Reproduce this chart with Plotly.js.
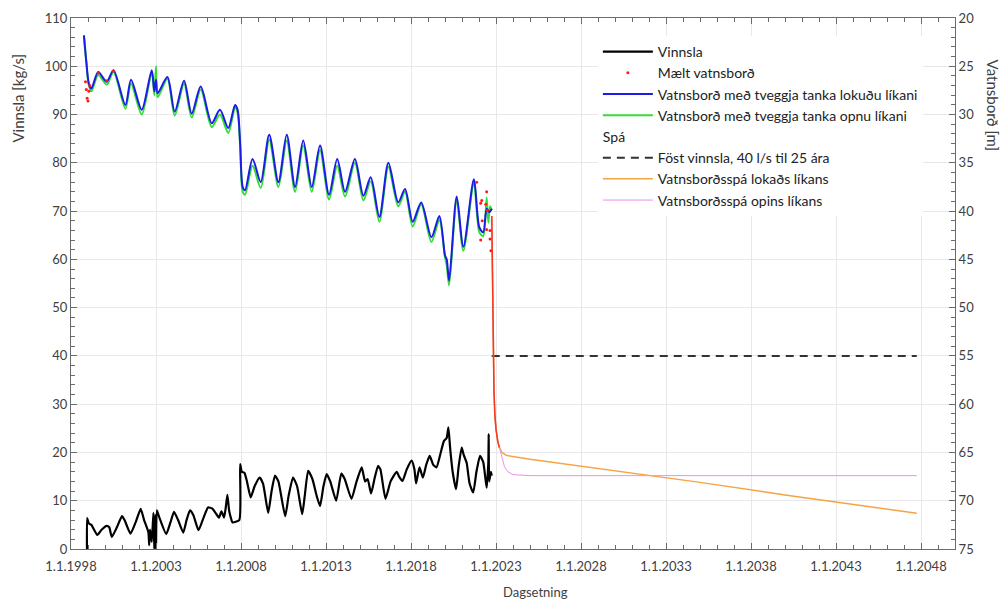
<!DOCTYPE html>
<html><head><meta charset="utf-8">
<script src="https://cdn.plot.ly/plotly-3.0.1.min.js"></script>
<style>html,body{margin:0;padding:0;background:#fff;}#chart{width:1007px;height:601px;}</style>
</head><body><div id="chart"></div>
<script>
// ---- Data (decimal years) ----
const tickYears = [1998,2003,2008,2013,2018,2023,2028,2033,2038,2043,2048];
const tickLabels = ['1.1.1998','1.1.2003','1.1.2008','1.1.2013','1.1.2018','1.1.2023','1.1.2028','1.1.2033','1.1.2038','1.1.2043','1.1.2048'];

// Vinnsla [kg/s]
const vinnslaT = [1998.94,1998.95,1999.05,1999.2,1999.55,1999.8,2000.1,2000.25,2000.4,2000.7,2001.0,2001.15,2001.5,2001.8,2002.1,2002.3,2002.55,2002.6,2002.65,2002.75,2002.85,2002.9,2002.95,2003.0,2003.05,2003.2,2003.6,2003.85,2004.06,2004.3,2004.6,2004.8,2005.0,2005.2,2005.5,2005.8,2006.06,2006.3,2006.5,2006.7,2006.85,2007.0,2007.1,2007.2,2007.3,2007.4,2007.5,2007.9,2007.95,2008.05,2008.2,2008.35,2008.57,2008.8,2009.1,2009.3,2009.6,2009.8,2010.0,2010.2,2010.6,2010.8,2011.06,2011.3,2011.6,2011.75,2011.95,2012.2,2012.45,2012.65,2012.85,2013.04,2013.25,2013.6,2013.9,2014.1,2014.5,2014.8,2015.1,2015.3,2015.45,2015.65,2015.85,2016.06,2016.2,2016.5,2016.8,2017.16,2017.3,2017.5,2017.75,2018.04,2018.2,2018.3,2018.5,2018.7,2018.9,2019.1,2019.3,2019.5,2019.75,2019.94,2020.1,2020.2,2020.3,2020.45,2020.65,2020.8,2020.98,2021.1,2021.27,2021.45,2021.66,2021.85,2022.06,2022.25,2022.45,2022.55,2022.57,2022.6,2022.7,2022.75];
const vinnslaV = [0,6.4,5.3,5.0,2.9,4.0,4.8,4.5,2.5,4.5,6.8,6.0,3.2,5.5,8.3,6.0,3.5,0.8,4.0,1.5,7.5,0,7.0,0,8.0,6.5,3.1,5.5,7.7,6.0,3.4,6.0,8.0,7.0,3.9,6.5,8.6,8.4,7.5,6.5,7.8,6.5,8.5,11.2,8.0,6.5,5.5,6.0,17.6,16.0,15.8,14.0,10.7,13.0,14.8,13.5,7.5,12.0,15.2,14.0,6.8,11.0,14.8,13.0,7.2,11.0,16.2,14.5,11.0,8.9,13.0,15.5,14.0,10.0,15.6,14.5,10.4,14.0,16.9,14.0,14.5,11.5,14.5,17.2,16.5,10.4,14.0,16.0,15.0,14.1,16.5,18.3,16.5,13.6,16.9,14.8,17.5,19.3,17.5,16.9,20.0,22.4,23.0,25.2,21.0,16.0,12.4,17.0,21.0,19.5,17.9,13.5,11.7,16.0,19.3,18.0,12.7,18.0,23.8,14.0,16.0,15.2];

// Mælt vatnsborð [m]
const maeltT = [1998.85,1998.9,1998.95,1999.0,1999.05,1999.1,1999.6,2000.1,2000.5,2021.86,2022.1,2022.16,2022.19,2022.1,2022.4,2022.45,2022.45,2022.5,2022.65,2022.65,2022.7];
const maeltV = [26.6,27.4,28.3,28.6,27.6,27.0,25.7,26.5,25.5,37.0,39.2,38.9,41.0,43.0,39.3,38.0,41.9,39.9,42.0,42.9,44.1];

// Vatnsborð með tveggja tanka lokuðu líkani [m]
const lokadT = [1998.76,1998.9,1999.05,1999.2,1999.6,2000.1,2000.5,2001.2,2001.53,2002.16,2002.75,2002.9,2003.0,2003.1,2003.67,2004.1,2004.65,2005.1,2005.63,2006.28,2006.76,2007.25,2007.65,2007.8,2007.95,2008.1,2008.24,2008.68,2009.16,2009.66,2010.2,2010.69,2011.18,2011.66,2012.16,2012.65,2013.18,2013.66,2014.12,2014.7,2015.2,2015.63,2016.14,2016.67,2017.25,2017.65,2018.1,2018.6,2019.2,2019.67,2020.0,2020.1,2020.24,2020.69,2021.08,2021.7,2022.02,2022.25,2022.45,2022.6,2022.75];
const lokadV = [21.8,24.5,26.8,27.3,25.6,26.6,25.4,29.0,26.4,29.5,25.4,27.6,26.4,27.8,26.1,29.7,26.5,29.9,27.1,30.9,29.5,31.4,29.0,29.5,33.0,37.5,37.85,34.6,37.0,32.1,37.0,32.1,37.5,32.7,37.5,33.2,38.3,34.6,38.0,34.6,38.4,36.5,40.6,35.0,39.1,37.7,41.1,39.1,42.7,40.5,44.6,45.0,47.2,38.5,43.7,36.7,41.7,42.2,39.75,40.1,39.75];

// Vatnsborð með tveggja tanka opnu líkani [m]
const opidT = [1998.76,1998.9,1999.05,1999.2,1999.6,2000.1,2000.5,2001.2,2001.53,2002.16,2002.75,2002.9,2003.0,2003.1,2003.67,2004.1,2004.65,2005.1,2005.63,2006.28,2006.76,2007.25,2007.65,2007.8,2007.95,2008.1,2008.24,2008.68,2009.16,2009.66,2010.2,2010.69,2011.18,2011.66,2012.16,2012.65,2013.18,2013.66,2014.12,2014.7,2015.2,2015.63,2016.14,2016.67,2017.25,2017.65,2018.1,2018.6,2019.2,2019.67,2020.0,2020.1,2020.24,2020.69,2021.08,2021.7,2022.02,2022.25,2022.45,2022.55,2022.65,2022.75];
const opidV = [21.8,24.6,27.0,27.6,25.9,26.9,25.6,29.4,26.8,30.0,25.6,28.0,25.0,28.2,26.3,30.1,26.8,30.3,27.4,31.3,30.0,31.9,29.3,29.8,33.3,38.0,38.3,35.3,37.6,32.6,37.5,32.7,38.0,33.2,38.0,33.7,38.8,35.3,38.5,35.0,38.9,36.9,41.1,35.4,39.5,38.0,41.6,39.3,43.2,40.9,44.8,45.6,47.7,38.9,44.1,37.1,42.2,42.6,38.6,41.2,39.5,39.9];

// Spá
const fostT = [2022.75,2047.75];
const fostV = [40,40];
const dropT = [2022.75,2022.78,2022.81,2022.84,2022.88,2022.93,2023.0,2023.1,2023.2];
const dropV = [40.5,45.0,50.0,55.0,58.5,61.0,62.6,63.8,64.5];
const spaLokT = [2022.75,2022.78,2022.81,2022.84,2022.88,2022.93,2023.0,2023.1,2023.2,2023.35,2023.6,2025,2030,2035,2040,2045,2047.75];
const spaLokV = [40.5,45.0,50.0,55.0,58.5,61.0,62.6,63.8,64.5,65.0,65.3,65.7,66.9,68.1,69.4,70.6,71.3];
const spaOpT = [2022.75,2022.78,2022.81,2022.84,2022.88,2022.93,2023.0,2023.1,2023.2,2023.35,2023.5,2023.7,2024.0,2025,2030,2040,2047.75];
const spaOpV = [40.5,45.0,50.0,55.0,58.5,61.0,62.6,63.8,64.5,65.6,66.5,67.0,67.3,67.4,67.4,67.4,67.4];

const FONT = 'Lato, "Open Sans", sans-serif';
const TXT = '#404040';

const traces = [
  {x: vinnslaT, y: vinnslaV, name: 'Vinnsla', type: 'scatter', mode: 'lines', line: {color: '#000000', width: 2.2, shape: 'spline', smoothing: 0.5}, legendgroup: 'a', legendrank: 1, yaxis: 'y'},
  {x: fostT, y: fostV, name: 'Föst vinnsla, 40 l/s til 25 ára', type: 'scatter', mode: 'lines', line: {color: '#333333', width: 2, dash: '8px,6px'}, legendgroup: 'b', legendgrouptitle: {text: 'Spá', font: {family: FONT, size: 14, color: '#222'}}, legendrank: 5, yaxis: 'y'},
  {x: opidT, y: opidV, name: 'Vatnsborð með tveggja tanka opnu líkani', type: 'scatter', mode: 'lines', line: {color: '#33dd33', width: 2, shape: 'spline', smoothing: 0.8}, legendgroup: 'a', legendrank: 4, yaxis: 'y2'},
  {x: lokadT, y: lokadV, name: 'Vatnsborð með tveggja tanka lokuðu líkani', type: 'scatter', mode: 'lines', line: {color: '#1c1ce6', width: 2, shape: 'spline', smoothing: 0.8}, legendgroup: 'a', legendrank: 3, yaxis: 'y2'},
  {x: spaLokT, y: spaLokV, name: 'Vatnsborðsspá lokaðs líkans', type: 'scatter', mode: 'lines', line: {color: '#f5a445', width: 1.5}, legendgroup: 'b', legendrank: 6, yaxis: 'y2'},
  {x: spaOpT, y: spaOpV, name: 'Vatnsborðsspá opins líkans', type: 'scatter', mode: 'lines', line: {color: '#ec8fec', width: 1}, legendgroup: 'b', legendrank: 7, yaxis: 'y2'},
  {x: dropT, y: dropV, name: 'drop', type: 'scatter', mode: 'lines', line: {color: '#f43a1c', width: 1.5}, showlegend: false, hoverinfo: 'skip', yaxis: 'y2'},
  {x: maeltT, y: maeltV, name: 'Mælt vatnsborð', type: 'scatter', mode: 'markers', marker: {color: '#ff1a1a', size: 3}, legendgroup: 'a', legendrank: 2, yaxis: 'y2'}
];

const layout = {
  width: 1007, height: 601,
  margin: {l: 71, r: 52, t: 18, b: 52},
  paper_bgcolor: '#ffffff', plot_bgcolor: '#ffffff',
  font: {family: FONT, size: 13, color: TXT},
  showlegend: true,
  legend: {x: 0.596, y: 0.966, xanchor: 'left', yanchor: 'top', bgcolor: '#ffffff', borderwidth: 0,
           traceorder: 'grouped', tracegroupgap: 0, font: {family: FONT, size: 14, color: '#222'}, itemwidth: 50},
  xaxis: {range: [1998, 2050], tickmode: 'array', tickvals: tickYears, ticktext: tickLabels,
          showgrid: true, gridcolor: '#e8e8e8', gridwidth: 1, zeroline: false,
          showline: true, linecolor: '#6b6b6b', linewidth: 1, mirror: 'ticks',
          ticks: 'inside', ticklen: 6, tickcolor: '#6b6b6b', ticklabelstandoff: 5,
          minor: {tickmode: 'linear', tick0: 1998, dtick: 1, ticks: 'inside', ticklen: 4, tickcolor: '#6b6b6b', showgrid: false},
          tickfont: {family: FONT, size: 13, color: TXT}},
  yaxis: {range: [0, 110], dtick: 10, tick0: 0, showgrid: true, gridcolor: '#e8e8e8', zeroline: false,
          showline: true, linecolor: '#6b6b6b', linewidth: 1,
          ticks: 'inside', ticklen: 6, tickcolor: '#6b6b6b',
          minor: {dtick: 2, ticks: 'inside', ticklen: 4, tickcolor: '#6b6b6b', showgrid: false},
          tickfont: {family: FONT, size: 13, color: TXT}},
  yaxis2: {overlaying: 'y', side: 'right', range: [75, 20], dtick: 5, tick0: 20, showgrid: false, zeroline: false,
           showline: true, linecolor: '#6b6b6b', linewidth: 1,
           ticks: 'inside', ticklen: 6, tickcolor: '#6b6b6b',
           minor: {dtick: 1, ticks: 'inside', ticklen: 4, tickcolor: '#6b6b6b'},
           tickfont: {family: FONT, size: 13, color: TXT}},
  annotations: [
    {text: 'Vinnsla [kg/s]', xref: 'paper', yref: 'paper', x: -0.06, y: 0.85, textangle: -90, showarrow: false, font: {family: FONT, size: 15, color: TXT}, xanchor: 'center', yanchor: 'middle'},
    {text: 'Vatnsborð [m]', xref: 'paper', yref: 'paper', x: 1.043, y: 0.835, textangle: 90, showarrow: false, font: {family: FONT, size: 15, color: TXT}, xanchor: 'center', yanchor: 'middle'},
    {text: 'Dagsetning', xref: 'paper', yref: 'paper', x: 0.525, y: -0.081, showarrow: false, font: {family: FONT, size: 13, color: TXT}, xanchor: 'center', yanchor: 'middle'}
  ]
};

Plotly.newPlot('chart', traces, layout, {displayModeBar: false, staticPlot: true});
</script>
</body></html>
